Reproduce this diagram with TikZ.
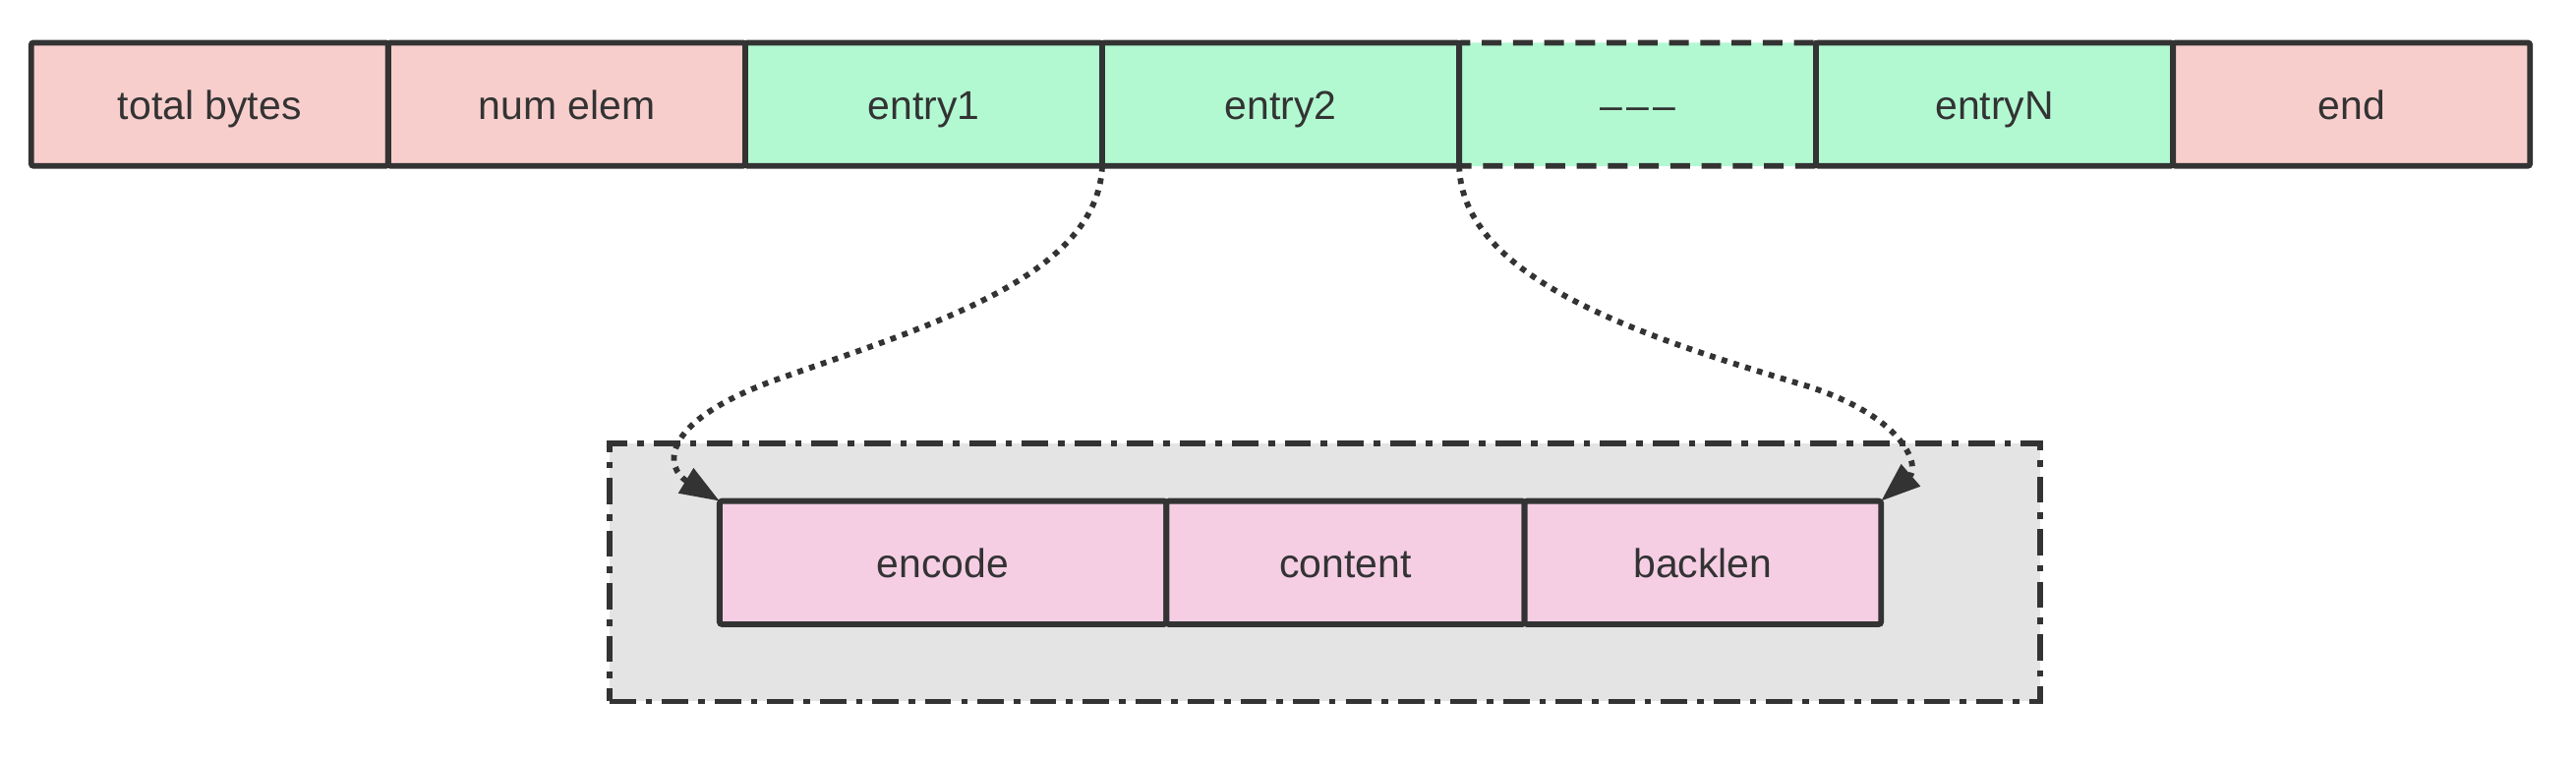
\documentclass[tikz,border=0pt]{standalone}
\usepackage{fontspec}
\setmainfont{Liberation Sans}
\usetikzlibrary{arrows.meta}
\definecolor{stroke}{HTML}{333333}
\definecolor{hdrpink}{HTML}{F8CECC}
\definecolor{entgreen}{HTML}{B2F9D2}
\definecolor{subpink}{HTML}{F5CEE4}
\definecolor{boxgray}{HTML}{E4E4E4}
\begin{document}
\begin{tikzpicture}[x=1pt,y=-1pt,
  cell/.style={draw=stroke, line width=3.5pt, minimum width=217.3pt, minimum height=75pt,
    inner sep=0pt, outer sep=0pt, anchor=north west, text=stroke, rounded corners=1.5pt,
    text height=18pt, text depth=0pt,
    font=\fontsize{24.5}{29}\selectfont},
  hdr/.style={cell, fill=hdrpink},
  ent/.style={cell, fill=entgreen},
  dashcell/.style={cell, fill=entgreen, dash pattern=on 12pt off 7pt},
  sub/.style={cell, fill=subpink},
  container/.style={draw=stroke, fill=boxgray, line width=3.5pt, minimum width=871pt, minimum height=157pt,
    inner sep=0pt, outer sep=0pt, anchor=north west,
    dash pattern=on 16pt off 6pt on 4pt off 6pt},
  link/.style={draw=stroke, line width=3.5pt, dash pattern=on 3.5pt off 4pt,
    -{Triangle[length=24pt,width=17pt,fill=stroke]}}
]
\useasboundingbox[fill=white] (0,0) rectangle (1568,462);
% container
\node[container] (group) at (371,270) {};
% top row
\node[dashcell] (dots) at (888.1,26) {–\kern2.5pt–\kern2.5pt–};
\node[hdr] (total) at (19,26) {total bytes};
\node[hdr] (num) at (236.3,26) {num elem};
\node[ent] (e1) at (453.6,26) {entry1};
\node[ent] (e2) at (670.9,26) {entry2};
\node[ent] (eN) at (1105.4,26) {entryN};
\node[hdr] (end) at (1322.7,26) {end};
% bottom row
\node[sub, minimum width=272pt] (encode) at (438,305) {encode};
\node[sub, minimum width=218pt] (content) at (710,305) {content};
\node[sub, minimum width=217pt] (backlen) at (928,305) {backlen};
% links
\draw[link] (e2.south west) .. controls (668,170) and (560,200) .. (470,232)
  .. controls (400,258) and (405,285) .. (encode.north west);
\draw[link] (e2.south east) .. controls (890,170) and (1000,205) .. (1100,235)
  .. controls (1162,255) and (1168,285) .. (backlen.north east);
\end{tikzpicture}
\end{document}
